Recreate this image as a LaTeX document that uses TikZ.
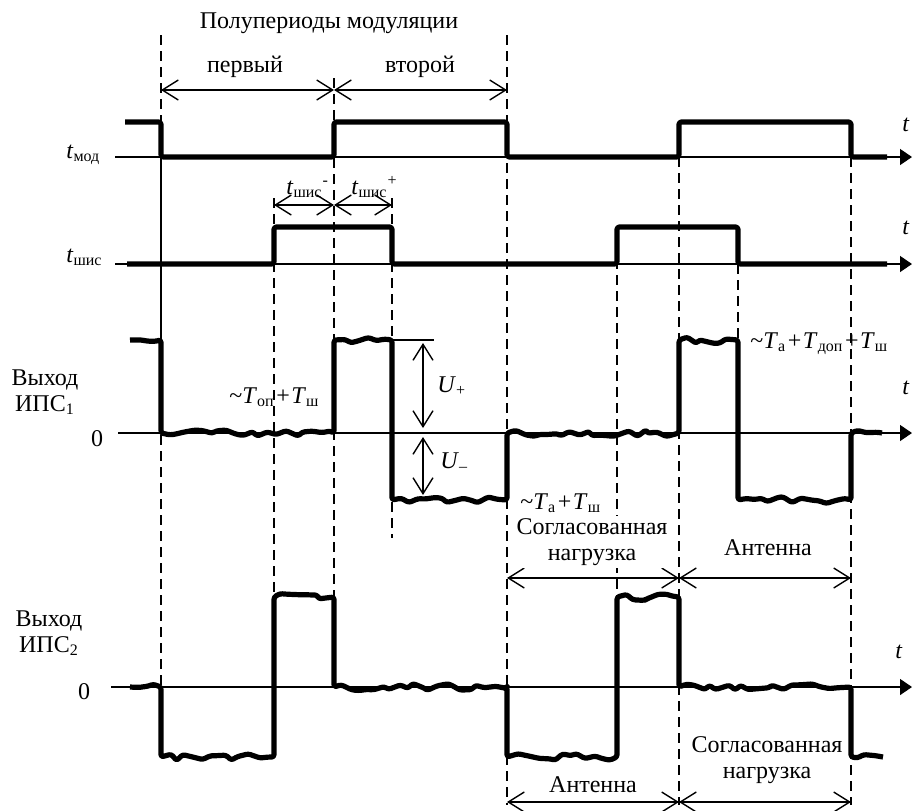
\documentclass[tikz,border=0pt]{standalone}
\usepackage{fontspec}
\setmainfont{Liberation Serif}
\usepackage{tikz}
\usetikzlibrary{arrows.meta, decorations.pathmorphing, calc}
\tikzset{
    axis/.style={line width=0.7pt, -{Triangle[length=6pt, width=8pt]}},
    signal/.style={line width=2.6pt, line join=round,
        decoration={random steps, segment length=4pt, amplitude=1.8pt}, rounded corners=1.2pt},
    guide/.style={line width=0.7pt, dash pattern=on 5pt off 3pt},
    span/.style={line width=0.7pt, {Straight Barb[length=8pt, width=10pt]}-{Straight Barb[length=8pt, width=10pt]}},
    lbl/.style={font=\fontsize{12}{13}\selectfont, inner sep=1pt}
}
\newcommand{\tsub}[2]{\textit{#1}\textsubscript{#2}}
\newcommand{\pl}{\kern0.8pt+\kern0.8pt}

\begin{document}
\begin{tikzpicture}[x=0.5pt, y=-0.5pt]
    \useasboundingbox (0,0) rectangle (915,810);
    \pgfmathsetseed{11}

    % time marks
    \foreach \x/\ya/\yb in {161/35/687, 274/198/597, 334/78/597, 392/198/538, 507/35/805,
                            617/227/597, 679/157/805, 738/264/340, 851/157/805}
        \draw[guide] (\x,\ya) -- (\x,\yb);
    \draw[line width=0.7pt] (161,157) -- (161,340);

    % axes
    \draw[axis] (115,157) -- (912,157);
    \draw[axis] (115,264) -- (912,264);
    \draw[axis] (118,433) -- (912,433);
    \draw[axis] (111,687) -- (912,687);
    \draw[line width=0.7pt] (392,340) -- (434,340);

    % modulation and switch signals
    \draw[signal] (125,122) -- (161,122) -- (161,157) -- (334,157) -- (334,122) -- (507,122)
        -- (507,157) -- (679,157) -- (679,122) -- (851,122) -- (851,157) -- (887,157);
    \draw[signal] (127,264) -- (274,264) -- (274,227) -- (392,227) -- (392,264) -- (617,264)
        -- (617,227) -- (738,227) -- (738,264) -- (887,264);

    % detector outputs
    \draw[signal] (130,340) decorate{-- (161,340)} -- (161,433) decorate{-- (334,433)}
        -- (334,340) decorate{-- (392,340)} -- (392,500) decorate{-- (507,500)}
        -- (507,433) decorate{-- (679,433)} -- (679,340) decorate{-- (738,340)}
        -- (738,500) decorate{-- (851,500)} -- (851,433) decorate{-- (882,433)};
    \draw[signal] (130,687) decorate{-- (161,687)} -- (161,757) decorate{-- (274,757)}
        -- (274,597) decorate{-- (334,597)} -- (334,687) decorate{-- (507,687)}
        -- (507,757) decorate{-- (617,757)} -- (617,597) decorate{-- (679,597)}
        -- (679,687) decorate{-- (851,687)} -- (851,757) decorate{-- (883,757)};

    % intervals
    \draw[span] (161,90) -- (334,90);
    \draw[span] (334,90) -- (507,90);
    \draw[span] (274,205) -- (334,205);
    \draw[span] (334,205) -- (392,205);
    \draw[span] (423,343) -- (423,428);
    \draw[span] (423,437) -- (423,495);
    \draw[span] (507,578) -- (679,578);
    \draw[span] (679,578) -- (851,578);
    \draw[span] (507,802) -- (679,802);
    \draw[span] (679,802) -- (851,802);

    % labels
    \node[lbl] (title) at (329,23) {Полупериоды модуляции};
    \node[lbl] (first) at (245,67) {первый};
    \node[lbl] (second) at (420,67) {второй};
    \node[lbl, anchor=base west] (tminus) at (284,194) {\tsub{t}{шис}\textsuperscript{-}};
    \node[lbl, anchor=base west] (tplus) at (349,194) {\tsub{t}{шис}\textsuperscript{+}};
    \node[lbl, anchor=base west] (tmod) at (64,158) {\tsub{t}{мод}};
    \node[lbl, anchor=base west] (tshis) at (64,262) {\tsub{t}{шис}};
    \node[lbl] (tA) at (906,125) {\textit{t}};
    \node[lbl] (tB) at (906,228) {\textit{t}};
    \node[lbl] (tC) at (906,388) {\textit{t}};
    \node[lbl] (tD) at (899,652) {\textit{t}};
    \node[lbl, align=center] (out1) at (45,392) {Выход\\ИПС\textsubscript{1}};
    \node[lbl, align=center] (out2) at (49,633) {Выход\\ИПС\textsubscript{2}};
    \node[lbl] (zero1) at (97,439) {0};
    \node[lbl] (zero2) at (84,692) {0};
    \node[lbl, anchor=base west] (Uplus) at (435,392) {\tsub{U}{+}};
    \node[lbl, anchor=base west] (Uminus) at (438,468) {\tsub{U}{–}};
    \node[lbl, anchor=base west] (Top) at (227,403) {\textasciitilde\tsub{T}{оп}\pl\tsub{T}{ш}};
    \node[lbl, anchor=base west] (Tadd) at (748,348) {\textasciitilde\tsub{T}{а}\pl\tsub{T}{доп}\pl\tsub{T}{ш}};
    \node[lbl, anchor=base west] (Ta) at (518,509) {\textasciitilde\tsub{T}{а}\pl\tsub{T}{ш}};
    \node[lbl, align=center, fill=white] (load1) at (592,542) {Согласованная\\нагрузка};
    \node[lbl] (ant1) at (768,548) {Антенна};
    \node[lbl] (ant2) at (593,785) {Антенна};
    \node[lbl, align=center] (load2) at (767,760) {Согласованная\\нагрузка};
\end{tikzpicture}
\end{document}
